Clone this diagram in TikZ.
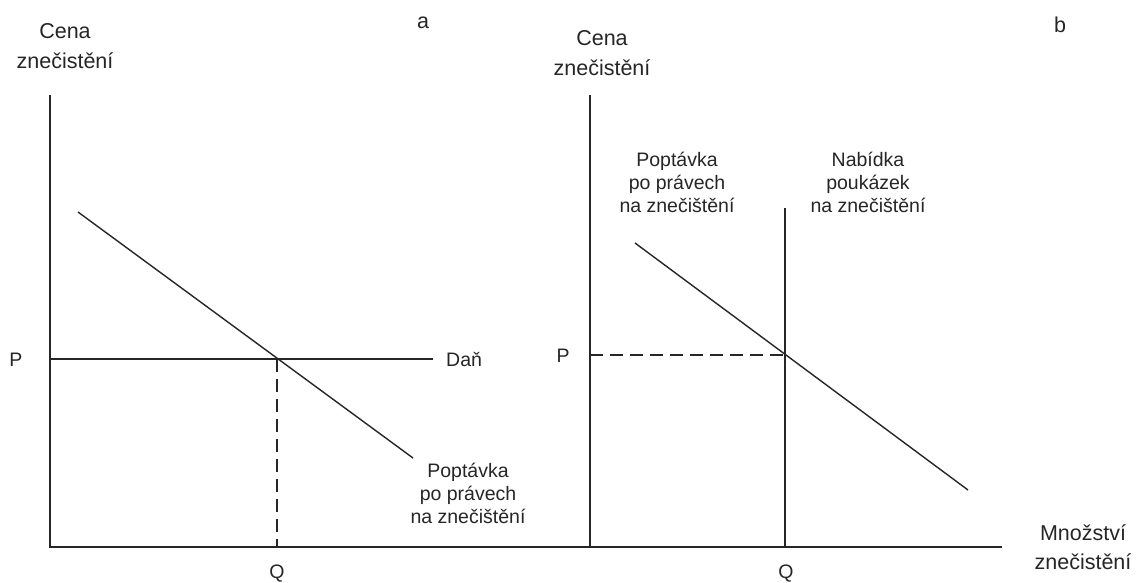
\documentclass[tikz,border=0pt]{standalone}
\usepackage{fontspec}
\setmainfont{Liberation Sans}
\begin{document}
\begin{tikzpicture}[x=1pt,y=-1pt,
  axis/.style={line width=1.7pt,black!85},
  curve/.style={line width=1.4pt,black!85},
  guide/.style={line width=1.4pt,black!85,dash pattern=on 13pt off 7pt},
  big/.style={font=\fontsize{21.5}{30}\selectfont,inner sep=0pt,anchor=base,text=black!85},
  lbl/.style={font=\fontsize{19.5}{23}\selectfont,inner sep=0pt,anchor=base,text=black!85}]
\useasboundingbox[fill=white] (0,0) rectangle (1142,582);
% coordinates
\coordinate (aTop) at (50,95);
\coordinate (aO) at (50,547);
\coordinate (xEnd) at (1002,547);
\coordinate (bTop) at (590,95);
\coordinate (bO) at (590,547);
\coordinate (aP) at (50,359);
\coordinate (aPend) at (433,359);
\coordinate (aE) at (277,359);
\coordinate (aQ) at (277,547);
\coordinate (aD1) at (78,212);
\coordinate (aD2) at (413,458);
\coordinate (bP) at (590,355);
\coordinate (bE) at (785,355);
\coordinate (bS1) at (785,208);
\coordinate (bS2) at (785,547);
\coordinate (bD1) at (635,243);
\coordinate (bD2) at (968,490);
% axes
\draw[axis] (aTop) -- (aO) -- (xEnd);
\draw[axis] (bTop) -- (bO);
% panel a
\draw[curve] (aP) -- (aPend);
\draw[curve] (aD1) -- (aD2);
\draw[guide] (aE) -- (aQ);
% panel b
\draw[guide] (bP) -- (bE);
\draw[curve] (bS1) -- (bS2);
\draw[curve] (bD1) -- (bD2);
% labels panel a
\node[big] (ya1) at (65,38) {Cena};
\node[big] (ya2) at (65,68) {znečistění};
\node[big] (la) at (423,28) {a};
\node[lbl] (pa) at (16,366) {P};
\node[lbl] (qa) at (277,578) {Q};
\node[lbl,anchor=base west] (dan) at (446,366) {Daň};
\node[lbl] (da1) at (468,477) {Poptávka};
\node[lbl] (da2) at (468,500) {po právech};
\node[lbl] (da3) at (468,523) {na znečištění};
% labels panel b
\node[big] (yb1) at (602,45) {Cena};
\node[big] (yb2) at (602,75) {znečistění};
\node[big] (lb) at (1060,32) {b};
\node[lbl] (pb) at (563,362) {P};
\node[lbl] (qb) at (786,578) {Q};
\node[lbl] (db1) at (677,166) {Poptávka};
\node[lbl] (db2) at (677,189) {po právech};
\node[lbl] (db3) at (677,212) {na znečištění};
\node[lbl] (sb1) at (868,166) {Nabídka};
\node[lbl] (sb2) at (868,189) {poukázek};
\node[lbl] (sb3) at (868,212) {na znečištění};
\node[big] (xb1) at (1083,540) {Množství};
\node[big] (xb2) at (1083,569) {znečistění};
\end{tikzpicture}
\end{document}
